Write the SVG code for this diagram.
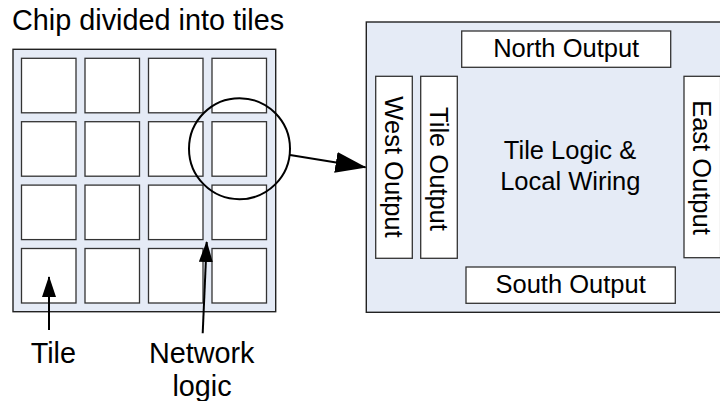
<svg xmlns="http://www.w3.org/2000/svg" width="720" height="401" viewBox="0 0 720 401">
<style>
.bg{fill:#e5ebf6;stroke:#222;stroke-width:1.4}
.box{fill:#fff;stroke:#333;stroke-width:1.3}
.t{font-family:"Liberation Sans",Arial,sans-serif;fill:#000}
.lg{font-size:28.8px}
.md{font-size:25.5px}
.ln{stroke:#000;stroke-width:2;fill:none}
</style>
<defs>
<marker id="ah" markerUnits="userSpaceOnUse" markerWidth="21" markerHeight="14" refX="20" refY="7" orient="auto">
<path d="M0,0 L21,7 L0,14 z" fill="#000"/>
</marker>
<marker id="ahb" markerUnits="userSpaceOnUse" markerWidth="31" markerHeight="21" refX="30" refY="10.5" orient="auto">
<path d="M0,0 L31,10.5 L0,21 z" fill="#000"/>
</marker>
</defs>
<g id="title"><text class="t lg" x="12" y="29.5">Chip divided into tiles</text></g>
<g id="chip">
<rect class="bg" x="13" y="49.3" width="262.7" height="262.4"/>
<rect class="box" x="21.5" y="58.3" width="54.5" height="54.5"/>
<rect class="box" x="85" y="58.3" width="54.5" height="54.5"/>
<rect class="box" x="148.5" y="58.3" width="54.5" height="54.5"/>
<rect class="box" x="212" y="58.3" width="54.5" height="54.5"/>
<rect class="box" x="21.5" y="121.7" width="54.5" height="54.5"/>
<rect class="box" x="85" y="121.7" width="54.5" height="54.5"/>
<rect class="box" x="148.5" y="121.7" width="54.5" height="54.5"/>
<rect class="box" x="212" y="121.7" width="54.5" height="54.5"/>
<rect class="box" x="21.5" y="185.1" width="54.5" height="54.5"/>
<rect class="box" x="85" y="185.1" width="54.5" height="54.5"/>
<rect class="box" x="148.5" y="185.1" width="54.5" height="54.5"/>
<rect class="box" x="212" y="185.1" width="54.5" height="54.5"/>
<rect class="box" x="21.5" y="248.5" width="54.5" height="54.5"/>
<rect class="box" x="85" y="248.5" width="54.5" height="54.5"/>
<rect class="box" x="148.5" y="248.5" width="54.5" height="54.5"/>
<rect class="box" x="212" y="248.5" width="54.5" height="54.5"/>
</g>
<g id="zoom-circle"><circle class="ln" cx="239.5" cy="148.7" r="50.5"/></g>
<g id="tile-label"><text class="t lg" x="53.3" y="363.3" text-anchor="middle">Tile</text></g>
<g id="network-label"><text class="t lg" text-anchor="middle"><tspan x="201.7" y="363.3">Network</tspan><tspan x="202" y="396">logic</tspan></text></g>
<g id="tile-detail">
<rect class="bg" x="366.3" y="22" width="365" height="290.3"/>
<g id="north"><rect class="box" x="461.7" y="31" width="209" height="36.3"/><text class="t md" x="566.2" y="57.3" text-anchor="middle">North Output</text></g>
<g id="south"><rect class="box" x="466" y="267" width="209.3" height="36.3"/><text class="t md" x="570.6" y="292.7" text-anchor="middle">South Output</text></g>
<g id="west"><rect class="box" x="375.7" y="76.3" width="36.6" height="182"/><text class="t md" x="394" y="167" text-anchor="middle" dy="0.35em" transform="rotate(90 394 167)">West Output</text></g>
<g id="tileout"><rect class="box" x="420.7" y="76.3" width="36.6" height="182"/><text class="t md" x="439" y="169" text-anchor="middle" dy="0.35em" transform="rotate(90 439 169)">Tile Output</text></g>
<g id="east"><rect class="box" x="684" y="76.3" width="36.6" height="181.4"/><text class="t md" x="702.3" y="167.5" text-anchor="middle" dy="0.35em" transform="rotate(90 702.3 167.5)">East Output</text></g>
<g id="logic"><text class="t md" text-anchor="middle"><tspan x="570" y="159.3">Tile Logic &amp;</tspan><tspan x="570.3" y="190">Local Wiring</tspan></text></g>
</g>
<g id="connectors">
<line class="ln" x1="49" y1="330" x2="49" y2="277" marker-end="url(#ah)"/>
<line class="ln" x1="202.7" y1="333.3" x2="206.7" y2="242" marker-end="url(#ah)"/>
<line class="ln" x1="290" y1="155" x2="365.5" y2="167.3" marker-end="url(#ahb)"/>
</g>
</svg>
